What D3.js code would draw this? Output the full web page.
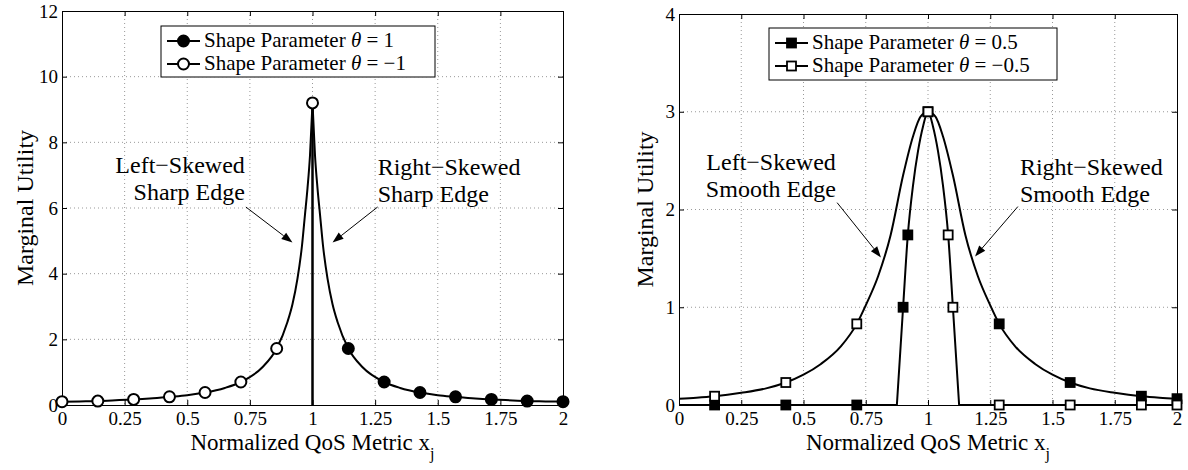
<!DOCTYPE html>
<html>
<head>
<meta charset="utf-8">
<script src="https://cdn.jsdelivr.net/npm/d3@7"></script>
<style>
  body { margin: 0; background: #fff; }
  svg text { font-family: "Liberation Serif", "Times New Roman", "DejaVu Serif", serif; fill: #000; }
</style>
</head>
<body>
<div id="chart"></div>
<script>
const width = 1188;
const height = 470;
const serif = "'Liberation Serif', 'Times New Roman', serif";

// shared x axis
const xTicks = [0, 0.25, 0.5, 0.75, 1, 1.25, 1.5, 1.75, 2];
const xTickLabels = ["0", "0.25", "0.5", "0.75", "1", "1.25", "1.5", "1.75", "2"];

// ---- left panel: theta = 1 / -1 (sharp edge) ----
const sharpYTicks = [0, 2, 4, 6, 8, 10, 12];

// theta = -1 : rises to the peak at x = 1, then drops straight to 0
const sharpNegX = [0, 0.07, 0.143, 0.2, 0.286, 0.35, 0.429, 0.5, 0.571, 0.65, 0.714, 0.8, 0.857, 0.9, 0.92, 0.94, 0.958, 0.97, 0.98, 0.99, 1, 1];
const sharpNegY = [0.10, 0.11, 0.12, 0.14, 0.17, 0.20, 0.25, 0.30, 0.38, 0.52, 0.70, 1.15, 1.72, 2.53, 3.07, 3.85, 4.85, 5.8, 6.6, 7.6, 9.2, 0];
// theta = 1 : jumps up at x = 1, then decays
const sharpPosX = [1, 1, 1.01, 1.02, 1.03, 1.042, 1.06, 1.08, 1.1, 1.143, 1.2, 1.286, 1.35, 1.429, 1.5, 1.571, 1.65, 1.714, 1.8, 1.857, 1.93, 2];
const sharpPosY = [0, 9.2, 7.6, 6.6, 5.8, 4.85, 3.85, 3.07, 2.53, 1.72, 1.15, 0.70, 0.52, 0.38, 0.30, 0.25, 0.20, 0.17, 0.14, 0.12, 0.11, 0.10];

const sharpNegMarkX = [0, 0.143, 0.286, 0.429, 0.571, 0.714, 0.857, 1];
const sharpNegMarkY = [0.10, 0.12, 0.17, 0.25, 0.38, 0.70, 1.72, 9.2];
const sharpPosMarkX = [1.143, 1.286, 1.429, 1.571, 1.714, 1.857, 2];
const sharpPosMarkY = [1.72, 0.70, 0.38, 0.25, 0.17, 0.12, 0.10];

// ---- right panel: theta = 0.5 / -0.5 (smooth edge) ----
const smoothYTicks = [0, 1, 2, 3, 4];

const smoothPosX = [0, 0.875, 0.9, 0.919, 0.94, 0.96, 0.98, 1, 1.03, 1.06, 1.1, 1.15, 1.2, 1.25, 1.286, 1.35, 1.43, 1.5, 1.571, 1.65, 1.75, 1.857, 1.93, 2];
const smoothPosY = [0, 0, 1.0, 1.74, 2.25, 2.6, 2.85, 3.0, 2.95, 2.75, 2.35, 1.74, 1.32, 1.02, 0.83, 0.6, 0.42, 0.31, 0.23, 0.17, 0.125, 0.09, 0.075, 0.065];
const smoothNegX = [0, 0.07, 0.143, 0.25, 0.35, 0.429, 0.5, 0.57, 0.65, 0.714, 0.75, 0.8, 0.85, 0.9, 0.94, 0.97, 1, 1.02, 1.04, 1.06, 1.081, 1.1, 1.125, 2];
const smoothNegY = [0.065, 0.075, 0.09, 0.125, 0.17, 0.23, 0.31, 0.42, 0.6, 0.83, 1.02, 1.32, 1.74, 2.35, 2.75, 2.95, 3.0, 2.85, 2.6, 2.25, 1.74, 1.0, 0, 0];

const smoothPosMarkX = [0.143, 0.429, 0.714, 0.9, 0.919, 1, 1.286, 1.571, 1.857, 2];
const smoothPosMarkY = [0, 0, 0, 1.0, 1.74, 3.0, 0.83, 0.23, 0.09, 0.065];
const smoothNegMarkX = [0.143, 0.429, 0.714, 1, 1.081, 1.1, 1.286, 1.571, 1.857, 2];
const smoothNegMarkY = [0.09, 0.23, 0.83, 3.0, 1.74, 1.0, 0, 0, 0, 0];

const svg = d3.select("#chart")
    .append("svg")
    .attr("width", width)
    .attr("height", height)
    .attr("font-family", serif);

// split a curve into straight runs (flat zeros, vertical jumps) and smooth runs
function splitRuns(xs, ys) {
    const pts = xs.map((x, i) => ({ x, y: ys[i] }));
    const runs = [];
    let cur = [pts[0]];
    let straight = null;
    for (let i = 1; i < pts.length; i++) {
        const a = pts[i - 1], b = pts[i];
        const s = (a.y === 0 && b.y === 0) || a.x === b.x;
        if (straight === null || s === straight) {
            cur.push(b);
            straight = s;
        } else {
            runs.push({ straight, pts: cur });
            cur = [a, b];
            straight = s;
        }
    }
    runs.push({ straight, pts: cur });
    return runs;
}

function drawPanel(cfg) {
    const x = d3.scaleLinear().domain([0, 2]).range([cfg.left, cfg.right]);
    const y = d3.scaleLinear().domain([0, cfg.yMax]).range([cfg.bottom, cfg.top]);
    const g = svg.append("g");

    // dotted grid
    g.selectAll(".gx").data(xTicks.slice(1, -1)).enter().append("line")
        .attr("x1", d => x(d)).attr("x2", d => x(d))
        .attr("y1", cfg.top).attr("y2", cfg.bottom)
        .attr("stroke", "#999").attr("stroke-dasharray", "1,3");
    g.selectAll(".gy").data(cfg.yTicks.slice(1, -1)).enter().append("line")
        .attr("y1", d => y(d)).attr("y2", d => y(d))
        .attr("x1", cfg.left).attr("x2", cfg.right)
        .attr("stroke", "#999").attr("stroke-dasharray", "1,3");

    // axes, ticks inside on all four sides
    const styleAxis = sel => {
        sel.attr("font-family", serif);
        sel.selectAll("text").attr("font-size", 19).attr("font-family", serif);
        sel.selectAll("line, path").attr("stroke", "#000");
    };
    g.append("g").attr("transform", `translate(0,${cfg.bottom})`)
        .call(d3.axisBottom(x).tickValues(xTicks).tickFormat((d, i) => xTickLabels[i])
            .tickSizeInner(-5).tickSizeOuter(0).tickPadding(7))
        .call(styleAxis);
    g.append("g").attr("transform", `translate(0,${cfg.top})`)
        .call(d3.axisTop(x).tickValues(xTicks).tickFormat("").tickSizeInner(-5).tickSizeOuter(0))
        .call(styleAxis);
    g.append("g").attr("transform", `translate(${cfg.left},0)`)
        .call(d3.axisLeft(y).tickValues(cfg.yTicks).tickFormat(d3.format("d"))
            .tickSizeInner(-5).tickSizeOuter(0).tickPadding(4))
        .call(styleAxis);
    g.append("g").attr("transform", `translate(${cfg.right},0)`)
        .call(d3.axisRight(y).tickValues(cfg.yTicks).tickFormat("").tickSizeInner(-5).tickSizeOuter(0))
        .call(styleAxis);

    // curves
    const smooth = d3.line().x(d => x(d.x)).y(d => y(d.y)).curve(d3.curveMonotoneX);
    const straight = d3.line().x(d => x(d.x)).y(d => y(d.y));
    cfg.series.forEach(s => {
        splitRuns(s.xs, s.ys).forEach(run => {
            g.append("path")
                .attr("d", (run.straight ? straight : smooth)(run.pts))
                .attr("fill", "none")
                .attr("stroke", "#000")
                .attr("stroke-width", 2)
                .attr("stroke-linejoin", "round");
        });
    });

    // markers
    cfg.series.forEach(s => {
        const pts = s.mx.map((v, i) => ({ x: v, y: s.my[i] }));
        drawMarkers(g, pts.map(p => [x(p.x), y(p.y)]), s.shape, s.filled);
    });

    // legend
    const lg = g.append("g");
    lg.append("rect")
        .attr("x", cfg.legend.x).attr("y", cfg.legend.y)
        .attr("width", cfg.legend.w).attr("height", cfg.legend.h)
        .attr("fill", "#fff").attr("stroke", "#000").attr("stroke-width", 1);
    cfg.series.forEach((s, i) => {
        const cy = cfg.legend.y + 15 + i * 23;
        const lx = cfg.legend.x + 6;
        lg.append("line")
            .attr("x1", lx).attr("x2", lx + 33)
            .attr("y1", cy).attr("y2", cy)
            .attr("stroke", "#000").attr("stroke-width", 2);
        drawMarkers(lg, [[lx + 16.5, cy]], s.shape, s.filled);
        const t = lg.append("text")
            .attr("x", lx + 37).attr("y", cy + 6)
            .attr("font-size", 21);
        t.append("tspan").text("Shape Parameter ");
        t.append("tspan").attr("font-style", "italic").text("\u03b8");
        t.append("tspan").text(" = " + s.label);
    });

    // annotations
    cfg.notes.forEach(n => {
        const t = g.append("text")
            .attr("text-anchor", n.anchor)
            .attr("font-size", 24);
        n.lines.forEach((line, i) => {
            t.append("tspan")
                .attr("x", x(n.tx))
                .attr("y", y(n.ty) + i * 27)
                .text(line);
        });
        const x1 = x(n.from[0]), y1 = y(n.from[1]);
        const x2 = x(n.to[0]), y2 = y(n.to[1]);
        const ang = Math.atan2(y2 - y1, x2 - x1);
        const len = 11, half = 4;
        const bx = x2 - len * Math.cos(ang), by = y2 - len * Math.sin(ang);
        g.append("line")
            .attr("x1", x1).attr("y1", y1).attr("x2", bx).attr("y2", by)
            .attr("stroke", "#000").attr("stroke-width", 1);
        g.append("path")
            .attr("d", `M${x2},${y2}L${bx - half * Math.sin(ang)},${by + half * Math.cos(ang)}` +
                `L${bx + half * Math.sin(ang)},${by - half * Math.cos(ang)}Z`)
            .attr("fill", "#000");
    });

    // axis titles
    const xt = g.append("text")
        .attr("x", (cfg.left + cfg.right) / 2)
        .attr("y", cfg.bottom + 45)
        .attr("text-anchor", "middle")
        .attr("font-size", 23);
    xt.append("tspan").text("Normalized QoS Metric x");
    xt.append("tspan").attr("font-size", 16).attr("dy", 9).text("j");

    g.append("text")
        .attr("transform", `translate(${cfg.left - cfg.yTitleGap},${(cfg.top + cfg.bottom) / 2}) rotate(-90)`)
        .attr("text-anchor", "middle")
        .attr("font-size", 24)
        .text("Marginal Utility");
}

function drawMarkers(g, pts, shape, filled) {
    if (shape === "circle") {
        g.selectAll(null).data(pts).enter().append("circle")
            .attr("cx", d => d[0]).attr("cy", d => d[1]).attr("r", 5.5)
            .attr("fill", filled ? "#000" : "#fff")
            .attr("stroke", "#000").attr("stroke-width", 2);
    } else {
        const s = 9;
        g.selectAll(null).data(pts).enter().append("rect")
            .attr("x", d => d[0] - s / 2).attr("y", d => d[1] - s / 2)
            .attr("width", s).attr("height", s)
            .attr("fill", filled ? "#000" : "#fff")
            .attr("stroke", "#000").attr("stroke-width", 1.8);
    }
}

drawPanel({
    left: 62, right: 563, top: 11, bottom: 405,
    yMax: 12, yTicks: sharpYTicks, yTitleGap: 29,
    legend: { x: 161, y: 26, w: 274, h: 51 },
    series: [
        { xs: sharpPosX, ys: sharpPosY, mx: sharpPosMarkX, my: sharpPosMarkY, shape: "circle", filled: true, label: "1" },
        { xs: sharpNegX, ys: sharpNegY, mx: sharpNegMarkX, my: sharpNegMarkY, shape: "circle", filled: false, label: "\u22121" }
    ],
    notes: [
        { lines: ["Left\u2212Skewed", "Sharp Edge"], anchor: "end", tx: 0.73, ty: 7.08, from: [0.734, 6.03], to: [0.92, 4.95] },
        { lines: ["Right\u2212Skewed", "Sharp Edge"], anchor: "start", tx: 1.26, ty: 7.0, from: [1.26, 6.03], to: [1.08, 4.95] }
    ]
});

drawPanel({
    left: 679, right: 1177, top: 14, bottom: 405,
    yMax: 4, yTicks: smoothYTicks, yTitleGap: 26,
    legend: { x: 769, y: 28, w: 288, h: 52 },
    series: [
        { xs: smoothPosX, ys: smoothPosY, mx: smoothPosMarkX, my: smoothPosMarkY, shape: "square", filled: true, label: "0.5" },
        { xs: smoothNegX, ys: smoothNegY, mx: smoothNegMarkX, my: smoothNegMarkY, shape: "square", filled: false, label: "\u22120.5" }
    ],
    notes: [
        { lines: ["Left\u2212Skewed", "Smooth Edge"], anchor: "end", tx: 0.63, ty: 2.40, from: [0.635, 2.07], to: [0.811, 1.51] },
        { lines: ["Right\u2212Skewed", "Smooth Edge"], anchor: "start", tx: 1.369, ty: 2.35, from: [1.361, 2.03], to: [1.189, 1.52] }
    ]
});
</script>
</body>
</html>
